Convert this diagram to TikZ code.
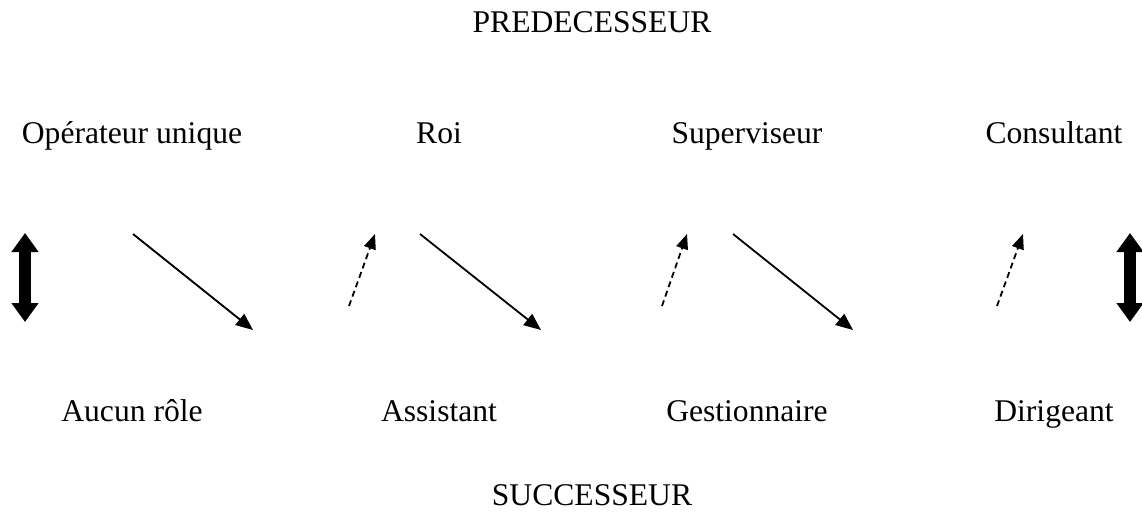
\documentclass[tikz,border=0pt]{standalone}
\usepackage{fontspec}
\setmainfont{Liberation Serif}
\usetikzlibrary{arrows.meta}
\begin{document}
\begin{tikzpicture}[x=1pt,y=-1pt,
  label/.style={anchor=base,inner sep=0pt,font=\fontsize{31.6}{38}\selectfont},
  solidarrow/.style={line width=1.8pt,-{Triangle[length=17pt,width=14pt]}},
  dasharrow/.style={line width=1.8pt,dash pattern=on 6pt off 4pt,-{Triangle[length=15pt,width=12pt]}},
  bigarrow/.style={line width=12pt,{Triangle[length=19pt,width=26pt]}-{Triangle[length=19pt,width=26pt]}}]
\useasboundingbox (0,0) rectangle (1142,511);

% titles
\node[label] (pred) at (592,33) {PREDECESSEUR};
\node[label] (succ) at (592,505) {SUCCESSEUR};

% predecessor roles
\node[label] (p1) at (132,143) {Opérateur unique};
\node[label] (p2) at (439,143) {Roi};
\node[label] (p3) at (747,143) {Superviseur};
\node[label] (p4) at (1054,143) {Consultant};

% successor roles
\node[label] (s1) at (132,421) {Aucun rôle};
\node[label] (s2) at (439,421) {Assistant};
\node[label] (s3) at (747,421) {Gestionnaire};
\node[label] (s4) at (1054,421) {Dirigeant};

% arrow end points
\coordinate (l1) at (25,233);   \coordinate (l2) at (25,322);
\coordinate (r1) at (1130,233); \coordinate (r2) at (1130,322);
\coordinate (a1) at (133,234);  \coordinate (a2) at (253,330);
\coordinate (b1) at (420,234);  \coordinate (b2) at (541,330);
\coordinate (c1) at (733,234);  \coordinate (c2) at (853,330);
\coordinate (d1) at (349,306);  \coordinate (d2) at (375,234);
\coordinate (e1) at (662,306);  \coordinate (e2) at (687,234);
\coordinate (f1) at (997,306);  \coordinate (f2) at (1023,234);

% two-way links
\draw[bigarrow] (l1) -- (l2);
\draw[bigarrow] (r1) -- (r2);

% downward transitions
\draw[solidarrow] (a1) -- (a2);
\draw[solidarrow] (b1) -- (b2);
\draw[solidarrow] (c1) -- (c2);

% upward transitions
\draw[dasharrow] (d1) -- (d2);
\draw[dasharrow] (e1) -- (e2);
\draw[dasharrow] (f1) -- (f2);
\end{tikzpicture}
\end{document}
